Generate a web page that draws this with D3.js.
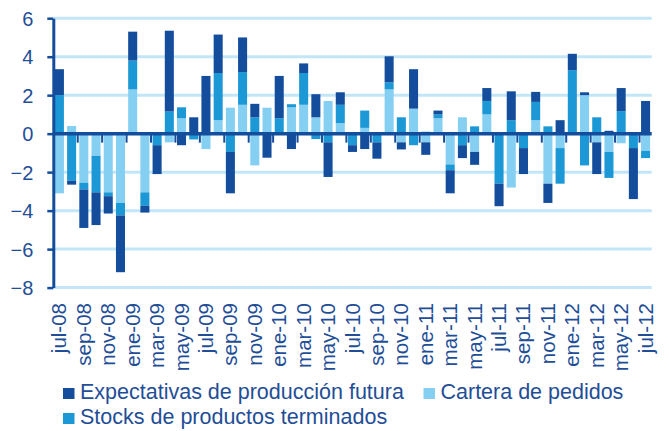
<!DOCTYPE html>
<html>
<head>
<meta charset="utf-8">
<script src="https://cdn.jsdelivr.net/npm/d3@7"></script>
<style>
  body { margin: 0; background: #fff; }
  text { font-family: "Liberation Sans", Arial, sans-serif; fill: #1f4e96; }
</style>
</head>
<body>
<svg id="chart" width="669" height="431"></svg>
<script>
// months, jul-08 .. jul-12
const months = ["jul-08","ago-08","sep-08","oct-08","nov-08","dic-08",
  "ene-09","feb-09","mar-09","abr-09","may-09","jun-09","jul-09","ago-09","sep-09","oct-09","nov-09","dic-09",
  "ene-10","feb-10","mar-10","abr-10","may-10","jun-10","jul-10","ago-10","sep-10","oct-10","nov-10","dic-10",
  "ene-11","feb-11","mar-11","abr-11","may-11","jun-11","jul-11","ago-11","sep-11","oct-11","nov-11","dic-11",
  "ene-12","feb-12","mar-12","abr-12","may-12","jun-12","jul-12"];

const cartera = [-3.1, 0.4, -2.55, -1.15, -3.05, -3.6,
  2.3, -3.05, 0, -0.45, 0.8, 0, -0.8, 0.7, 1.35, 1.5, -1.65, 1.35,
  0, 1.37, 1.5, 0.85, 1.7, 0.55, 0, 0.3, 0, 2.3, -0.45, 1.3,
  -0.45, 0.8, -1.6, 0.85, -0.95, 1.0, 0, -2.8, 0, 0.7, -2.6, -0.75,
  0, 2.0, -0.45, -0.95, -0.5, 0, -0.9];

const stocks = [2.0, -2.45, -0.35, -1.9, -0.2, -0.65,
  1.5, -0.7, -0.6, 1.15, 0.57, -0.3, 0, 2.45, -0.95, 1.7, 0.85, 0,
  0.8, 0.16, 1.65, -0.28, -0.45, 0.95, -0.6, 0.9, -0.45, 0.37, 0.85, -0.6,
  0.1, 0.2, -0.3, -0.6, 0.38, 0.7, -2.6, 0.7, -0.75, 0.95, 0.38, -1.85,
  3.3, -1.65, 0.85, -1.35, 1.17, -0.75, -0.37];

const expectativas = [1.35, -0.2, -2.0, -1.7, -0.9, -2.95,
  1.5, -0.35, -1.5, 4.2, -0.6, 0.85, 3.0, 2.0, -2.15, 1.8, 0.7, -1.25,
  2.2, -0.8, 0.5, 1.2, -1.8, 0.65, -0.35, -0.8, -0.85, 1.35, -0.37, 2.05,
  -0.65, 0.2, -1.2, -0.67, -0.67, 0.67, -1.17, 1.5, -1.35, 0.52, -1.0, 0.7,
  0.85, 0.15, -1.65, 0.15, 1.2, -2.65, 1.7];

const yTicks = [-8, -6, -4, -2, 0, 2, 4, 6];

const colors = {cartera: "#85cff3", stocks: "#1b98d5", expectativas: "#134d9b"};
const legendItems = [
  {key: "expectativas", label: "Expectativas de producción futura"},
  {key: "cartera", label: "Cartera de pedidos"},
  {key: "stocks", label: "Stocks de productos terminados"}
];

const svg = d3.select("#chart");
const left = 53.3, right = 651.7;

const rows = months.map((m, i) => ({month: m, cartera: cartera[i], stocks: stocks[i], expectativas: expectativas[i]}));

const x = d3.scaleBand().domain(months).range([left, right]).paddingInner(0.26).paddingOuter(0.13);
const y = d3.scaleLinear().domain([-8, 6]).range([287.6, 18.2]);
const step = x.step();

// gridlines
svg.append("g").selectAll("line").data(yTicks.filter(d => d != 0)).join("line")
  .attr("x1", left).attr("x2", right)
  .attr("y1", d => y(d)).attr("y2", d => y(d))
  .attr("stroke", "#c2e6f8").attr("stroke-width", 3);

// stacked bars (cartera nearest the zero line, then stocks, then expectativas)
const series = d3.stack().keys(["cartera", "stocks", "expectativas"]).offset(d3.stackOffsetDiverging)(rows);

svg.append("g").selectAll("g").data(series).join("g")
  .attr("fill", d => colors[d.key])
  .selectAll("rect").data(d => d).join("rect")
  .attr("x", d => x(d.data.month))
  .attr("width", x.bandwidth())
  .attr("y", d => y(Math.max(d[0], d[1])))
  .attr("height", d => Math.abs(y(d[0]) - y(d[1])));

// zero line with category ticks every 2 months
svg.append("line")
  .attr("x1", left).attr("x2", right)
  .attr("y1", y(0)).attr("y2", y(0))
  .attr("stroke", "#134d9b").attr("stroke-width", 3.5);

const tickIdx = d3.range(2, months.length, 2);
svg.append("g").selectAll("line").data(tickIdx).join("line")
  .attr("x1", i => left + i * step).attr("x2", i => left + i * step)
  .attr("y1", y(0)).attr("y2", y(0) + 9)
  .attr("stroke", "#134d9b").attr("stroke-width", 2);

// y axis
const yAxis = svg.append("g").attr("transform", `translate(${left},0)`)
  .call(d3.axisLeft(y).tickValues(yTicks).tickSize(6).tickSizeOuter(0).tickFormat(d3.format("d")));
yAxis.select(".domain").attr("stroke", "#134d9b").attr("stroke-width", 3);
yAxis.selectAll(".tick line").attr("stroke", "#134d9b").attr("stroke-width", 2.5);
yAxis.selectAll(".tick text")
  .attr("x", -20).attr("dy", "0.36em")
  .style("font-size", "20px").style("font-family", "Liberation Sans, Arial, sans-serif")
  .attr("fill", "#1f4e96");

// x labels
const labelIdx = d3.range(0, months.length, 2);
svg.append("g").selectAll("text").data(labelIdx).join("text")
  .attr("transform", i => `translate(${x(months[i]) + x.bandwidth() / 2 + 7},303) rotate(-90)`)
  .attr("text-anchor", "end")
  .style("font-size", "20.5px")
  .text(i => months[i]);

// legend
const legendPos = [{x: 63, y: 399}, {x: 423.5, y: 399}, {x: 63, y: 424}];
const lg = svg.append("g").selectAll("g").data(legendItems).join("g")
  .attr("transform", (d, i) => `translate(${legendPos[i].x},${legendPos[i].y})`);
lg.append("rect").attr("x", 0).attr("y", -11).attr("width", 11.5).attr("height", 11)
  .attr("fill", d => colors[d.key]);
lg.append("text").attr("x", 17).attr("y", 0)
  .style("font-size", "21.5px")
  .text(d => d.label);
</script>
</body>
</html>
